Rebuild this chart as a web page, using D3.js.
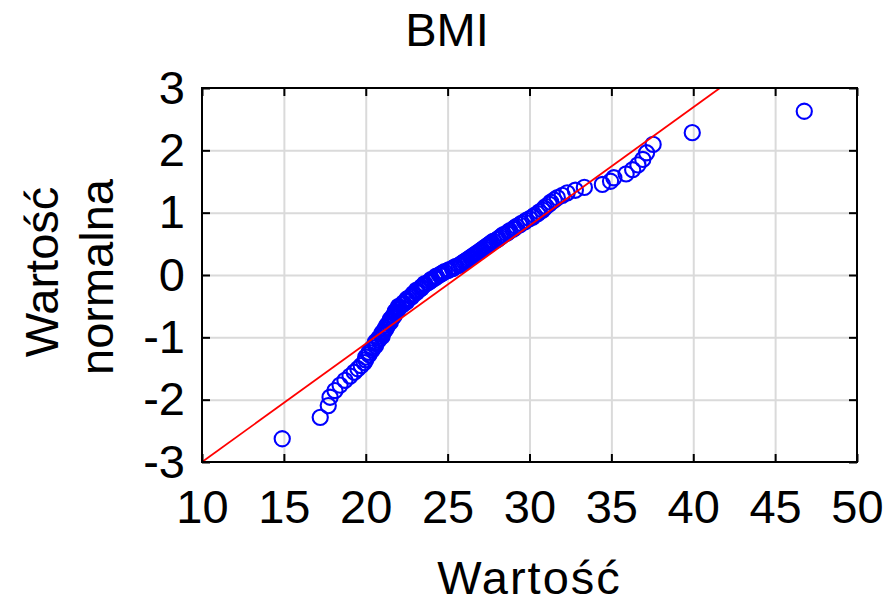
<!DOCTYPE html>
<html>
<head>
<meta charset="utf-8">
<script src="https://cdn.jsdelivr.net/npm/d3@7"></script>
<style>
  html, body { margin: 0; padding: 0; background: #fff; }
  svg { display: block; font-family: "Liberation Sans", Arial, sans-serif; }
</style>
</head>
<body>
<svg id="chart" width="885" height="604"></svg>
<script>
// ---- data ----
const title = "BMI";
const xTitle = "Wartość";
const yTitleLines = ["Wartość", "normalna"];
const xTicks = [10, 15, 20, 25, 30, 35, 40, 45, 50];
const yTicks = [-3, -2, -1, 0, 1, 2, 3];
const xDomain = [10, 50];
const yDomain = [-3, 3];

// observed BMI values (sorted)
const bmi = [
  14.90,17.22,17.71,17.82,18.12,18.43,18.73,19.04,19.30,19.52,
  19.72,19.90,20.00,20.00,20.20,20.20,20.40,20.40,20.60,20.60,
  20.60,20.80,20.80,21.00,21.00,21.00,21.10,21.20,21.20,21.30,
  21.30,21.40,21.50,21.50,21.50,21.60,21.70,21.70,21.80,21.80,
  21.80,21.90,22.00,22.00,22.00,22.20,22.30,22.30,22.50,22.50,
  22.50,22.60,22.80,22.80,22.90,22.90,23.10,23.10,23.10,23.30,
  23.40,23.40,23.50,23.60,23.60,23.80,23.90,24.00,24.00,24.20,
  24.30,24.30,
  24.50,
  24.60,24.70,24.80,25.00,25.10,25.30,25.40,25.50,25.70,25.80,
  25.90,26.00,26.10,26.20,26.30,26.40,26.50,26.60,26.70,26.80,
  26.90,27.00,27.10,27.20,27.30,27.40,27.50,27.60,27.70,27.80,
  28.00,28.10,28.20,28.30,28.40,28.60,28.70,28.80,29.00,29.10,
  29.20,29.40,29.50,29.70,29.80,30.00,30.20,30.30,30.50,30.60,
  30.80,30.90,31.00,31.20,31.30,31.50,31.70,32.00,32.30,32.80,
  33.35,34.45,34.95,35.15,35.90,36.30,36.62,36.92,37.15,37.55,
  39.94,46.78
];

// expected normal values (y of each circle)
const normalValue = [
  -2.627,-2.284,-2.095,-1.961,-1.854,-1.766,-1.689,-1.621,-1.560,-1.504,
  -1.453,-1.405,-1.360,-1.318,-1.278,-1.240,-1.203,-1.168,-1.135,-1.102,
  -1.071,-1.041,-1.012,-0.984,-0.956,-0.929,-0.903,-0.877,-0.852,-0.828,
  -0.804,-0.780,-0.757,-0.734,-0.712,-0.689,-0.668,-0.646,-0.625,-0.604,
  -0.584,-0.563,-0.543,-0.523,-0.504,-0.484,-0.465,-0.446,-0.427,-0.408,
  -0.389,-0.371,-0.352,-0.334,-0.316,-0.298,-0.280,-0.262,-0.244,-0.226,
  -0.209,-0.191,-0.173,-0.156,-0.138,-0.121,-0.104,-0.086,-0.069,-0.052,
  -0.035,-0.017,
  0.000,
  0.017,0.035,0.052,0.069,0.086,0.104,0.121,0.138,0.156,0.173,
  0.191,0.209,0.226,0.244,0.262,0.280,0.298,0.316,0.334,0.352,
  0.371,0.389,0.408,0.427,0.446,0.465,0.484,0.504,0.523,0.543,
  0.563,0.584,0.604,0.625,0.646,0.668,0.689,0.712,0.734,0.757,
  0.780,0.804,0.828,0.852,0.877,0.903,0.929,0.956,0.984,1.012,
  1.041,1.071,1.102,1.135,1.168,1.203,1.240,1.278,1.318,1.360,
  1.405,1.453,1.504,1.560,1.621,1.689,1.766,1.854,1.961,2.095,
  2.284,2.627
];

// reference line: passes through these two (value, normal) points
const refLineX = [10, 41.63];
const refLineY = [-3, 3];

// ---- layout ----
const svg = d3.select("#chart");
const pLeft = 202, pRight = 857, pTop = 88, pBottom = 462;
const fs = 47;

const x = d3.scaleLinear().domain(xDomain).range([pLeft, pRight]);
const y = d3.scaleLinear().domain(yDomain).range([pBottom, pTop]);

// grid
const gridX = svg.append("g").attr("transform", `translate(0,${pBottom})`)
  .call(d3.axisBottom(x).tickValues(xTicks.slice(1, -1)).tickSize(-(pBottom - pTop)).tickFormat(""));
const gridY = svg.append("g").attr("transform", `translate(${pLeft},0)`)
  .call(d3.axisLeft(y).tickValues(yTicks.slice(1, -1)).tickSize(-(pRight - pLeft)).tickFormat(""));
[gridX, gridY].forEach(g => {
  g.select(".domain").remove();
  g.selectAll("line").attr("stroke", "#dadada").attr("stroke-width", 2);
});

// points
const pts = bmi.map((v, i) => [v, normalValue[i]]);
svg.append("g").selectAll("circle").data(pts).join("circle")
  .attr("cx", d => x(d[0]))
  .attr("cy", d => y(d[1]))
  .attr("r", 7.6)
  .attr("fill", "none")
  .attr("stroke", "#0000ff")
  .attr("stroke-width", 2.1);

// reference line
svg.append("line")
  .attr("x1", x(refLineX[0])).attr("y1", y(refLineY[0]))
  .attr("x2", x(refLineX[1])).attr("y2", y(refLineY[1]))
  .attr("stroke", "#ff0000").attr("stroke-width", 1.8);

// axes (ticks inward on all four sides)
const fmt = d => String(d);
const axB = svg.append("g").attr("transform", `translate(0,${pBottom})`)
  .call(d3.axisBottom(x).tickValues(xTicks).tickSizeInner(-8).tickSizeOuter(0).tickPadding(28).tickFormat(fmt));
const axT = svg.append("g").attr("transform", `translate(0,${pTop})`)
  .call(d3.axisTop(x).tickValues(xTicks).tickSizeInner(-8).tickSizeOuter(0).tickFormat(""));
const axL = svg.append("g").attr("transform", `translate(${pLeft},0)`)
  .call(d3.axisLeft(y).tickValues(yTicks).tickSizeInner(-8).tickSizeOuter(0).tickPadding(17).tickFormat(fmt));
const axR = svg.append("g").attr("transform", `translate(${pRight},0)`)
  .call(d3.axisRight(y).tickValues(yTicks).tickSizeInner(-8).tickSizeOuter(0).tickFormat(""));
[axB, axT, axL, axR].forEach(g => {
  g.select(".domain").remove();
  g.attr("font-size", null).attr("font-family", null);
  g.selectAll("line").attr("stroke", "#000").attr("stroke-width", 2);
  g.selectAll("text").attr("font-size", fs).attr("fill", "#000");
});

// frame
svg.append("rect")
  .attr("x", pLeft).attr("y", pTop)
  .attr("width", pRight - pLeft).attr("height", pBottom - pTop)
  .attr("fill", "none").attr("stroke", "#000").attr("stroke-width", 2);

// title
svg.append("text").attr("x", 447).attr("y", 46)
  .attr("text-anchor", "middle").attr("font-size", fs).text(title);

// x title
svg.append("text").attr("x", (pLeft + pRight) / 2).attr("y", 594)
  .attr("text-anchor", "middle").attr("font-size", fs)
  .attr("letter-spacing", 2).text(xTitle);

// y title (two lines, rotated)
const yT = svg.append("text").attr("font-size", fs).attr("text-anchor", "middle")
  .attr("transform", "rotate(-90)");
yT.append("tspan").attr("x", -272).attr("y", 58).text(yTitleLines[0]);
yT.append("tspan").attr("x", -277).attr("y", 113).text(yTitleLines[1]);
</script>
</body>
</html>
